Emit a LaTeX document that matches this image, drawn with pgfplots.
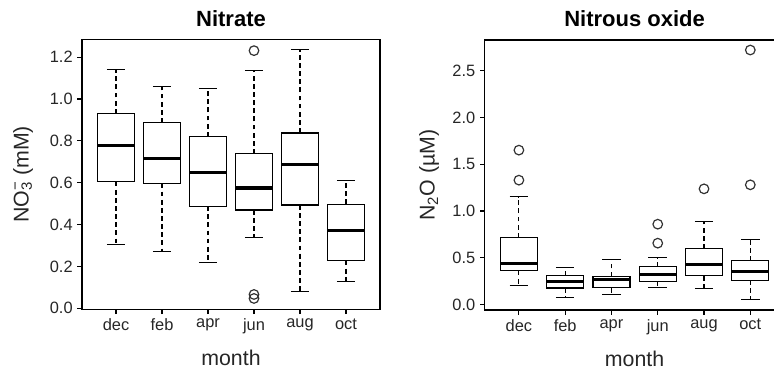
\documentclass[border=0pt]{standalone}
\usepackage{pgfplots}
\pgfplotsset{compat=1.18}
\usepgfplotslibrary{statistics}
\usepackage{fontspec}
\setmainfont{Liberation Sans}

% R-like boxplots: dashed whisker, solid staple
\pgfplotsset{
  boxplot/draw/lower whisker/.code={
    \draw[black, line width=0.8pt, dash pattern=on 3.6pt off 2.5pt]
      (boxplot cs:\pgfplotsboxplotvalue{lower quartile}) --
      (boxplot cs:\pgfplotsboxplotvalue{lower whisker});
    \draw[black, line width=0.8pt]
      (boxplot whisker cs:\pgfplotsboxplotvalue{lower whisker},0) --
      (boxplot whisker cs:\pgfplotsboxplotvalue{lower whisker},1);
  },
  boxplot/draw/upper whisker/.code={
    \draw[black, line width=0.8pt, dash pattern=on 3.6pt off 2.5pt]
      (boxplot cs:\pgfplotsboxplotvalue{upper quartile}) --
      (boxplot cs:\pgfplotsboxplotvalue{upper whisker});
    \draw[black, line width=0.8pt]
      (boxplot whisker cs:\pgfplotsboxplotvalue{upper whisker},0) --
      (boxplot whisker cs:\pgfplotsboxplotvalue{upper whisker},1);
  },
  rbox/.style={
    scale only axis, height=202.5pt,
    axis line style={line width=1.1pt},
    tick align=outside, tick pos=left,
    major tick length=3.5pt,
    every tick/.style={black, line width=0.8pt},
    xmin=0.26, xmax=6.74,
    xtick={1,...,6}, xticklabels={dec,feb,apr,jun,aug,oct},
    ticklabel style={font=\fontsize{12.3}{14}\selectfont, text=black!85},
    /pgf/number format/assume math mode=true,
    yticklabel style={/pgf/number format/fixed, /pgf/number format/fixed zerofill,
      /pgf/number format/precision=1},
    title style={font=\bfseries\fontsize{16.5}{19}\selectfont, at={(0.5,1.048)}, anchor=center},
    xlabel={month},
    xlabel style={font=\fontsize{16}{19}\selectfont, at={(0.5,-0.181)}, anchor=center, text=black!85},
    ylabel style={font=\fontsize{16}{19}\selectfont, anchor=center, text=black!85},
    boxplot/draw direction=y,
    boxplot/box extend=0.8, boxplot/whisker extend=0.4,
    boxplot/every box/.style={draw=black, fill=white, line width=0.9pt},
    boxplot/every median/.style={draw=black, line width=2.4pt},
    mark=o, mark size=3.6pt, mark options={line width=0.9pt, black!80},
  },
}

\begin{document}
\begin{tikzpicture}
% ---- Nitrate
\begin{axis}[rbox, at={(61.5pt,-232pt)}, anchor=south west, width=223.5pt,
  title={Nitrate},
  ymin=-0.005, ymax=1.285, ytick={0,0.2,...,1.2},
  ylabel={NO\rlap{\textsuperscript{−}}\textsubscript{3} (mM)},
  ylabel style={at={(-0.198,0.5)}}]
\addplot[black, boxplot prepared={draw position=1, lower whisker=0.306, lower quartile=0.605,
  median=0.777, upper quartile=0.930, upper whisker=1.139}] coordinates {};
\addplot[black, boxplot prepared={draw position=2, lower whisker=0.272, lower quartile=0.596,
  median=0.714, upper quartile=0.886, upper whisker=1.058}] coordinates {};
\addplot[black, boxplot prepared={draw position=3, lower whisker=0.218, lower quartile=0.488,
  median=0.650, upper quartile=0.820, upper whisker=1.050}] coordinates {};
\addplot[black, boxplot prepared={draw position=4, lower whisker=0.337, lower quartile=0.470,
  median=0.575, upper quartile=0.738, upper whisker=1.138}] coordinates {(4,1.231) (4,0.066) (4,0.047)};
\addplot[black, boxplot prepared={draw position=5, lower whisker=0.079, lower quartile=0.494,
  median=0.688, upper quartile=0.838, upper whisker=1.236}] coordinates {};
\addplot[black, boxplot prepared={draw position=6, lower whisker=0.126, lower quartile=0.228,
  median=0.371, upper quartile=0.497, upper whisker=0.612}] coordinates {};
\end{axis}
% ---- Nitrous oxide
\begin{axis}[rbox, at={(363.5pt,-232.5pt)}, anchor=south west, width=224.9pt,
  title={Nitrous oxide},
  ymin=-0.059, ymax=2.829, ytick={0,0.5,...,2.5},
  ylabel={N\textsubscript{2}O (µM)},
  ylabel style={at={(-0.185,0.5)}}]
\addplot[black, boxplot prepared={draw position=1, lower whisker=0.203, lower quartile=0.362,
  median=0.440, upper quartile=0.715, upper whisker=1.152}] coordinates {(1,1.651) (1,1.330)};
\addplot[black, boxplot prepared={draw position=2, lower whisker=0.071, lower quartile=0.176,
  median=0.242, upper quartile=0.308, upper whisker=0.396}] coordinates {};
\addplot[black, boxplot prepared={draw position=3, lower whisker=0.110, lower quartile=0.178,
  median=0.268, upper quartile=0.300, upper whisker=0.482}] coordinates {};
\addplot[black, boxplot prepared={draw position=4, lower whisker=0.178, lower quartile=0.249,
  median=0.321, upper quartile=0.403, upper whisker=0.506}] coordinates {(4,0.859) (4,0.656)};
\addplot[black, boxplot prepared={draw position=5, lower whisker=0.171, lower quartile=0.306,
  median=0.431, upper quartile=0.595, upper whisker=0.884}] coordinates {(5,1.237)};
\addplot[black, boxplot prepared={draw position=6, lower whisker=0.049, lower quartile=0.260,
  median=0.356, upper quartile=0.467, upper whisker=0.691}] coordinates {(6,2.722) (6,1.280)};
\end{axis}
\pgfresetboundingbox
\useasboundingbox (0,0) rectangle (580.5pt,-276.75pt);
\end{tikzpicture}
\end{document}
